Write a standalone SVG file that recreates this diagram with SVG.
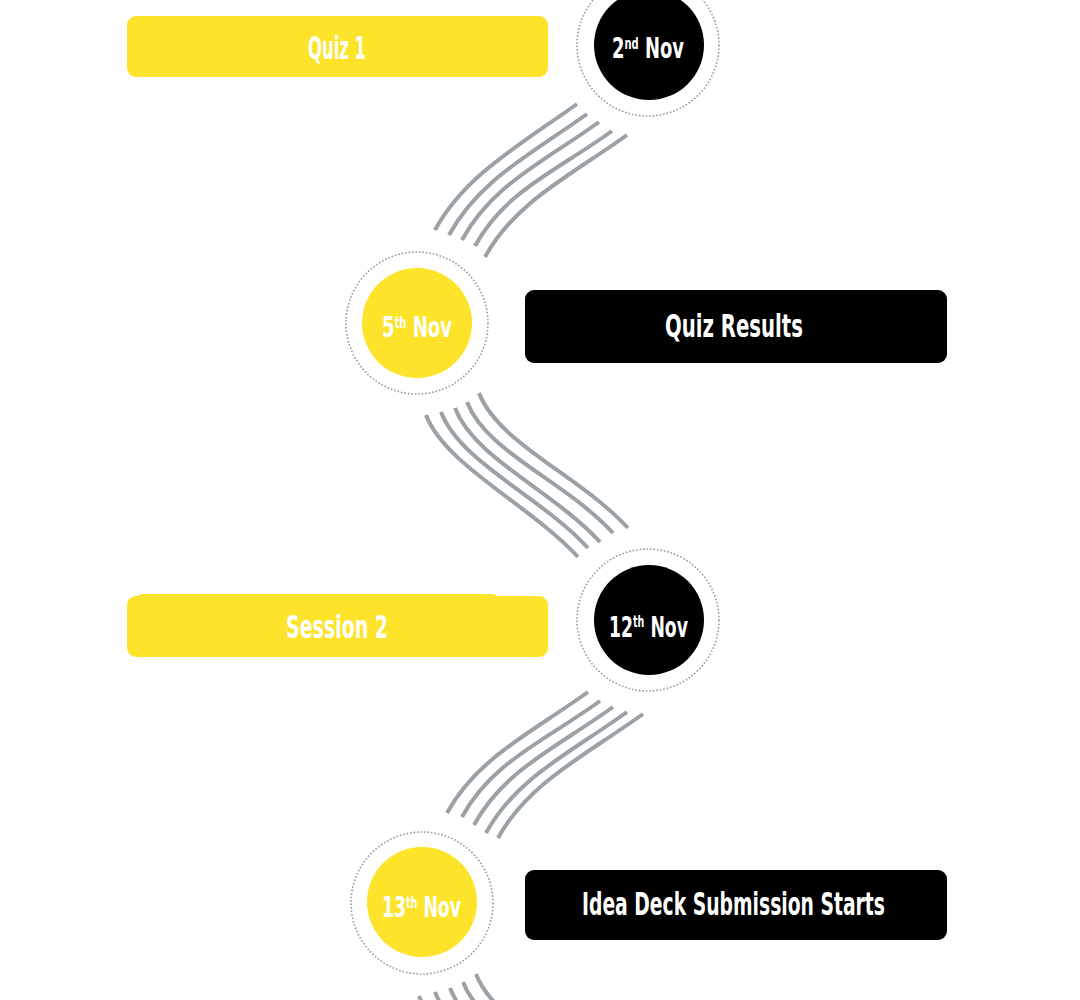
<svg xmlns="http://www.w3.org/2000/svg" width="1080" height="1000" viewBox="0 0 1080 1000">
<style>
.bg{fill:#ffffff}
.yb{fill:#FDE42B}
.kb{fill:#000000}
.ring{fill:none;stroke:#9a9a9a;stroke-width:1.6;stroke-dasharray:1.6 1.9}
.wire{fill:none;stroke:#9AA1A7;stroke-width:4;stroke-linecap:butt}
.t{fill:#ffffff;font-family:"DejaVu Sans Condensed","DejaVu Sans","Liberation Sans",sans-serif;font-weight:bold;font-stretch:condensed}
.big{font-size:32px}
.mid{font-size:29px}
.sup{font-size:16px}
</style>
<rect class="bg" x="0" y="0" width="1080" height="1000"/>
<g id="connectors">
  <g id="conn-1">
    <path class="wire" d="M577,104 C520,145 465,175 435,230"/>
    <path class="wire" d="M587,114 C530,155 479,180 449,235"/>
    <path class="wire" d="M599,122 C542,163 492,185 462,240"/>
    <path class="wire" d="M612,131 C555,172 505,191 475,246"/>
    <path class="wire" d="M627,135 C570,176 515,202 485,257"/>
  </g>
  <g id="conn-2">
    <path class="wire" d="M426,415 C445,465 530,505 578,557"/>
    <path class="wire" d="M441,412 C460,462 540,496 588,548"/>
    <path class="wire" d="M455,408 C474,458 552,490 600,542"/>
    <path class="wire" d="M467,402 C486,452 565,481 613,533"/>
    <path class="wire" d="M479,393 C498,443 580,476 628,528"/>
  </g>
  <g id="conn-3">
    <path class="wire" d="M588,692 C531,733 477,758 447,813"/>
    <path class="wire" d="M600,701 C543,742 492,762 462,817"/>
    <path class="wire" d="M613,707 C556,748 504,770 474,825"/>
    <path class="wire" d="M627,712 C570,753 516,778 486,833"/>
    <path class="wire" d="M643,714 C586,755 528,783 498,838"/>
  </g>
  <g id="conn-4">
    <path class="wire" d="M419,996 C438,1046 523,1086 571,1138"/>
    <path class="wire" d="M435,992 C454,1042 534,1076 582,1128"/>
    <path class="wire" d="M450,988 C469,1038 547,1070 595,1122"/>
    <path class="wire" d="M463,982 C482,1032 561,1061 609,1113"/>
    <path class="wire" d="M476,974 C495,1024 577,1057 625,1109"/>
  </g>
</g>
<g id="box-quiz1">
  <rect class="yb" x="127" y="16" width="421" height="61" rx="9"/>
  <text class="t big" x="308" y="59" textLength="58" lengthAdjust="spacingAndGlyphs">Quiz 1</text>
</g>
<g id="date-2nov">
  <circle class="ring" cx="648" cy="45" r="71"/>
  <circle class="kb" cx="649" cy="45" r="55"/>
  <text class="t mid" x="612" y="58" textLength="72" lengthAdjust="spacingAndGlyphs">2<tspan class="sup" dy="-9">nd</tspan><tspan dy="9"> Nov</tspan></text>
</g>
<g id="date-5nov">
  <circle class="ring" cx="417" cy="323" r="71"/>
  <circle class="yb" cx="417" cy="323" r="55"/>
  <text class="t mid" x="382" y="337" textLength="70" lengthAdjust="spacingAndGlyphs">5<tspan class="sup" dy="-9">th</tspan><tspan dy="9"> Nov</tspan></text>
</g>
<g id="box-quizresults">
  <rect class="kb" x="525" y="290" width="422" height="73" rx="9"/>
  <text class="t big" x="665" y="337" textLength="138" lengthAdjust="spacingAndGlyphs">Quiz Results</text>
</g>
<g id="date-12nov">
  <circle class="ring" cx="648" cy="620" r="71"/>
  <circle class="kb" cx="649" cy="620" r="55"/>
  <text class="t mid" x="609" y="637" textLength="79" lengthAdjust="spacingAndGlyphs">12<tspan class="sup" dy="-10">th</tspan><tspan dy="10"> Nov</tspan></text>
</g>
<g id="box-session2">
  <rect class="yb" x="135" y="594" width="365" height="30" rx="8"/>
  <rect class="yb" x="127" y="596" width="421" height="61" rx="9"/>
  <text class="t big" x="286" y="638" textLength="102" lengthAdjust="spacingAndGlyphs">Session 2</text>
</g>
<g id="date-13nov">
  <circle class="ring" cx="422" cy="903" r="71"/>
  <circle class="yb" cx="422" cy="902" r="55"/>
  <text class="t mid" x="382" y="917" textLength="79" lengthAdjust="spacingAndGlyphs">13<tspan class="sup" dy="-9">th</tspan><tspan dy="9"> Nov</tspan></text>
</g>
<g id="box-ideadeck">
  <rect class="kb" x="525" y="870" width="422" height="70" rx="9"/>
  <text class="t big" x="582" y="915" textLength="303" lengthAdjust="spacingAndGlyphs">Idea Deck Submission Starts</text>
</g>
</svg>
